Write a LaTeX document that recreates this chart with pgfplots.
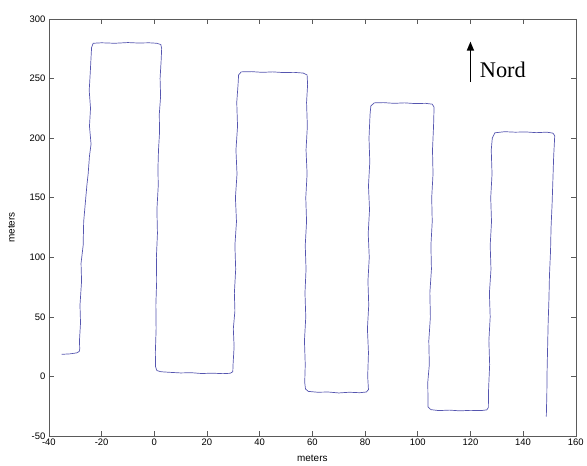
\documentclass[border=0pt]{standalone}
\usepackage{fontspec}
\setmainfont{Liberation Sans}
\newfontfamily\timesfont{Liberation Serif}
\usepackage{pgfplots}
\pgfplotsset{compat=1.18}
\usetikzlibrary{arrows.meta}
\definecolor{trace}{RGB}{85,85,175}
\definecolor{axgray}{RGB}{90,90,90}
\begin{document}
\begin{tikzpicture}
\begin{axis}[
  scale only axis,
  width=528bp, height=418bp,
  xmin=-40, xmax=160, ymin=-50, ymax=300,
  xtick={-40,-20,...,160}, ytick={-50,0,...,300},
  tick align=inside,
  major tick length=5bp,
  axis line style={axgray, line width=0.6pt},
  every tick/.style={axgray, line width=0.5pt},
  tick label style={font=\fontsize{9.5}{10}\selectfont},
  /pgf/number format/assume math mode=true,
  xlabel={meters}, ylabel={meters},
  label style={font=\fontsize{10}{11}\selectfont},
  xlabel style={yshift=-3bp},
  ylabel style={yshift=8bp},
  xticklabel style={yshift=1bp},
  clip=false,
]
\addplot[trace, line width=0.7pt] coordinates {
(-35.2,18.6) (-32,19) (-29.5,19.8) (-28.5,21) (-28.3,23)
(-28.4,30) (-28.0,45) (-28.2,60) (-27.6,80) (-27.8,95) (-27.0,110) (-26.8,130) (-26.2,145) (-25.6,160) (-25.1,170) (-24.6,185) (-24.0,195) (-24.6,210) (-24.2,225) (-24.7,240) (-24.3,255) (-24.0,268) (-23.8,276) (-23.2,279.6)
(-20,280) (-15,279.6) (-10,280.2) (-6,279.8) (-2,280) (1,279.6) (2.5,278.5) (2.8,275)
(2.6,265) (2.2,250) (2.4,235) (1.9,220) (2.0,205) (1.6,190) (1.4,175) (1.5,160) (1.0,140) (1.2,120) (0.8,100) (0.9,80) (0.6,60) (0.7,40) (0.4,20) (0.5,8) (1.0,5) (2.5,4)
(6,3.5) (10,3.0) (14,3.2) (18,2.5) (22,2.8) (26,2.4) (28.8,2.7) (29.8,4)
(29.9,10) (30.3,25) (30.0,40) (30.6,55) (30.4,70) (30.9,90) (30.6,110) (31.2,130) (30.8,150) (31.4,170) (31.0,190) (31.6,210) (31.3,230) (31.8,245) (32.0,253) (33,255.6)
(37,255.8) (41,255.2) (45,255.6) (49,255.0) (53,255.2) (56.5,254.6) (58,253)
(58.2,245) (57.8,230) (58.1,210) (57.6,190) (58.0,170) (57.5,150) (57.8,130) (57.3,110) (57.6,90) (57.2,70) (57.5,50) (57.0,30) (57.3,10) (57.1,-5) (57.4,-10.5) (58.5,-12.5)
(62,-13.2) (66,-13.0) (70,-13.8) (74,-13.2) (78,-13.6) (80.5,-13.0) (81.3,-11)
(81.0,0) (81.3,20) (80.9,40) (81.4,60) (81.1,80) (81.6,100) (81.2,120) (81.7,140) (81.3,160) (81.8,180) (81.5,200) (81.9,220) (82.2,227) (83.5,229.6)
(87,229.8) (91,229.2) (95,229.6) (99,229.0) (103,229.2) (105.5,228.5) (106.2,226)
(106.0,210) (105.6,190) (105.8,170) (105.3,150) (105.5,130) (105.0,110) (105.2,90) (104.6,70) (104.8,50) (104.2,30) (104.4,10) (103.8,-5) (103.9,-20) (103.9,-25.5) (105,-27.8)
(108,-28.6) (112,-28.2) (116,-28.8) (120,-28.4) (124,-28.6) (126.2,-28.0) (126.8,-26)
(126.9,-10) (127.3,10) (127.0,30) (127.5,50) (127.2,70) (127.8,90) (127.5,110) (128.0,130) (127.7,150) (128.2,170) (127.9,190) (128.3,200) (129.3,204.5)
(133,205.4) (137,205.0) (141,205.2) (145,204.6) (149,205.0) (151.3,204.2) (152,202)
(151.6,185) (151.3,165) (151.0,145) (150.6,125) (150.4,105) (150.0,85) (149.8,65) (149.5,45) (149.3,25) (149.1,5) (149.0,-15) (148.8,-33.6)
};
\draw[line width=1.5pt, -{Triangle[length=9bp,width=7bp]}] (axis cs:120,247) -- (axis cs:120,281);
\node[anchor=west, font=\timesfont\fontsize{22.5}{24}\selectfont, inner sep=0pt] at (axis cs:123.5,257) {Nord};
\end{axis}
\path (current axis.south west) ++(-49bp,-29bp) coordinate (bbA);
\path (current axis.north east) ++(10bp,19bp) coordinate (bbB);
\path (bbA) rectangle (bbB);
\end{tikzpicture}
\end{document}
